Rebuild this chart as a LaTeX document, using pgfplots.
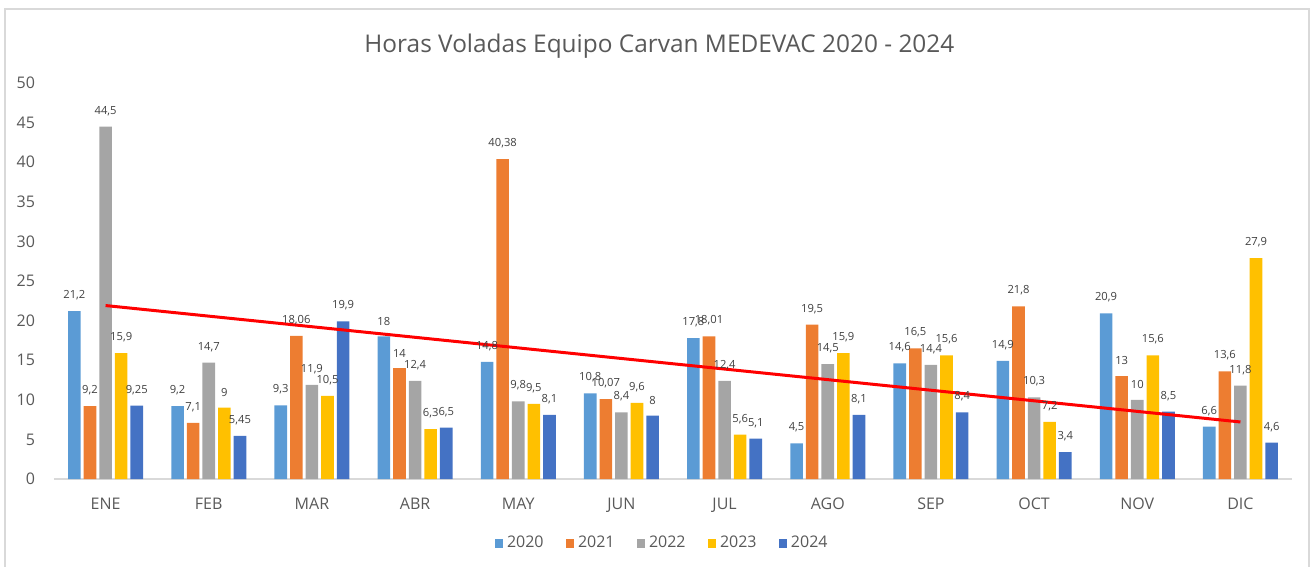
\documentclass[border=0pt]{standalone}
\usepackage{fontspec}
\setmainfont{Open Sans}
\usepackage{pgfplots}
\usepackage{pgfplotstable}
\pgfplotsset{compat=1.18}

\definecolor{c20}{HTML}{5B9BD5}
\definecolor{c21}{HTML}{ED7D31}
\definecolor{c22}{HTML}{A5A5A5}
\definecolor{c23}{HTML}{FFC000}
\definecolor{c24}{HTML}{4472C4}
\definecolor{txt}{HTML}{595959}
\definecolor{lbl}{HTML}{404040}
\definecolor{frame}{HTML}{D9D9D9}

% horas por mes (0 = ENE ... 11 = DIC)
\pgfplotstableread{
x  a     b      c     d     e
0  21.2  9.2    44.5  15.9  9.25
1  9.2   7.1    14.7  9     5.45
2  9.3   18.06  11.9  10.5  19.9
3  18    14     12.4  6.3   6.5
4  14.8  40.38  9.8   9.5   8.1
5  10.8  10.07  8.4   9.6   8
6  17.8  18.01  12.4  5.6   5.1
7  4.5   19.5   14.5  15.9  8.1
8  14.6  16.5   14.4  15.6  8.4
9  14.9  21.8   10.3  7.2   3.4
10 20.9  13     10    15.6  8.5
11 6.6   13.6   11.8  27.9  4.6
}\horas

\begin{document}
\begin{tikzpicture}
\useasboundingbox (-27pt,-44pt) rectangle (631pt,239.5pt);
\draw[frame, line width=1pt] (-24.5pt,-60pt) rectangle (627.5pt,235pt);
\begin{axis}[
    at={(0,0)}, anchor=south west,
    width=619pt, height=198pt, scale only axis,
    ybar=1.5pt, bar width=6.3pt,
    xmin=-0.5, xmax=11.5, ymin=0, ymax=50,
    enlargelimits=false,
    xtick={0,...,11},
    xticklabels={ENE,FEB,MAR,ABR,MAY,JUN,JUL,AGO,SEP,OCT,NOV,DIC},
    ytick={0,5,...,50},
    major tick length=0pt,
    axis lines*=left,
    axis line style={-},
    y axis line style={draw=none},
    x axis line style={draw=frame, line width=1pt},
    ticklabel style={font=\fontsize{8}{9}\selectfont, text=txt},
    xticklabel style={yshift=-6pt},
    yticklabel style={xshift=-6pt},
    /pgf/number format/assume math mode=true,
    /pgf/number format/use comma,
    /pgf/number format/precision=2,
    nodes near coords,
    every node near coord/.append style={font=\fontsize{5.6}{6}\selectfont, text=lbl, yshift=2pt},
    title={Horas Voladas Equipo Carvan MEDEVAC 2020 - 2024},
    title style={at={(axis description cs:0.489,1.063)}, anchor=center,
        font=\fontsize{12.2}{14}\selectfont, text=txt},
    legend columns=5,
    legend style={draw=none, fill=none, at={(axis description cs:0.492,-0.162)},
        anchor=center, font=\fontsize{8}{9}\selectfont, text=txt,
        /tikz/every even column/.append style={column sep=9pt}},
    legend image code/.code={\fill[#1] (0pt,-2.2pt) rectangle (4.2pt,2pt);},
]
\addplot[fill=c20, draw=none] table[x=x, y=a] {\horas};
\addplot[fill=c21, draw=none] table[x=x, y=b] {\horas};
\addplot[fill=c22, draw=none] table[x=x, y=c] {\horas};
\addplot[fill=c23, draw=none] table[x=x, y=d] {\horas};
\addplot[fill=c24, draw=none] table[x=x, y=e] {\horas};
\legend{2020,2021,2022,2023,2024}
\addplot[sharp plot, red, line width=1.5pt, nodes near coords={}, forget plot] coordinates {(0,21.9) (11,7.2)};
\end{axis}
\end{tikzpicture}
\end{document}
